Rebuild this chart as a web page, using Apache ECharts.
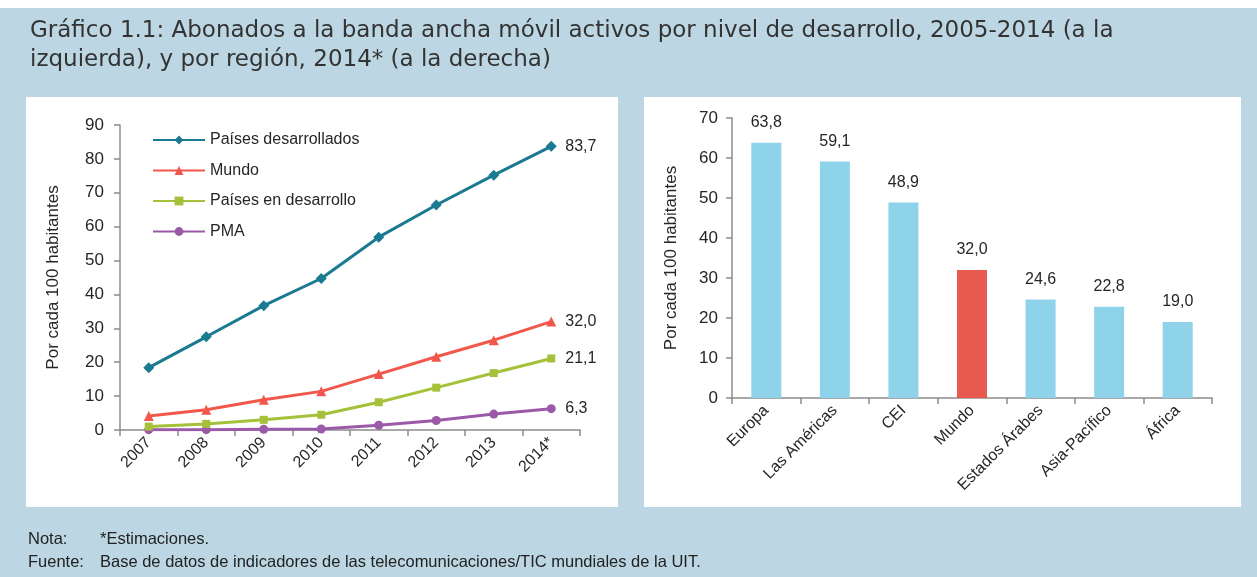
<!DOCTYPE html>
<html>
<head>
<meta charset="utf-8">
<script src="https://cdn.jsdelivr.net/npm/echarts@6/dist/echarts.min.js"></script>
<style>
html,body{margin:0;padding:0;background:#bcd7e3;}
#c{width:1257px;height:577px;}
</style>
</head>
<body>
<div id="c"></div>
<script>
// ---- data ----
const years = ['2007','2008','2009','2010','2011','2012','2013','2014*'];
const desarrollados = [18.4, 27.5, 36.7, 44.7, 56.9, 66.4, 75.2, 83.7];
const mundo = [4.1, 6.0, 8.9, 11.4, 16.5, 21.6, 26.5, 32.0];
const enDesarrollo = [1.0, 1.8, 3.0, 4.5, 8.2, 12.5, 16.8, 21.1];
const pma = [0.1, 0.1, 0.2, 0.3, 1.4, 2.8, 4.7, 6.3];
const lineNames = ['Países desarrollados','Mundo','Países en desarrollo','PMA'];

const regions = ['Europa','Las Américas','CEI','Mundo','Estados Árabes','Asia-Pacífico','África'];
const regionValues = [63.8, 59.1, 48.9, 32.0, 24.6, 22.8, 19.0];

const leftTicks = {min:0, max:90, interval:10};
const rightTicks = {min:0, max:70, interval:10};

const fmt = v => v.toFixed(1).replace('.', ',');
const FONT = 'Liberation Sans';
const TXT = '#262626';
const AX = '#8c8c8c';

const chart = echarts.init(document.getElementById('c'), null, {renderer:'canvas'});

const lineColors = ['#1a7a90','#f2574c','#a5c13a','#9a5aa8'];
const lineSymbols = ['diamond','triangle','rect','circle'];
const lineSizes = [11, 10, 8, 9];
const lineData = [desarrollados, mundo, enDesarrollo, pma];

const lineSeries = lineData.map((d,i)=>({
  name: lineNames[i],
  type: 'line',
  xAxisIndex: 0, yAxisIndex: 0,
  data: d,
  symbol: lineSymbols[i],
  symbolSize: lineSizes[i],
  showAllSymbol: true,
  z: 10 - i,
  lineStyle: {color: lineColors[i], width: 3},
  itemStyle: {color: lineColors[i]},
  endLabel: {show: true, formatter: p => fmt(p.value), color: TXT, fontFamily: FONT, fontSize: 16, distance: 14},
  animation: false
}));

const commonAxisLabel = {color: TXT, fontFamily: FONT, fontSize: 16};

chart.setOption({
  animation: false,
  backgroundColor: '#bcd7e3',
  graphic: [
    {type:'rect', shape:{x:0,y:0,width:1257,height:8}, style:{fill:'#ffffff'}, z:-10},
    {type:'rect', shape:{x:26,y:97,width:592,height:410}, style:{fill:'#ffffff'}, z:-10},
    {type:'rect', shape:{x:644,y:97,width:597,height:410}, style:{fill:'#ffffff'}, z:-10},
    {type:'text', left:30, top:20, style:{text:'Gráfico 1.1: Abonados a la banda ancha móvil activos por nivel de desarrollo, 2005-2014 (a la', fill:'#333', font:'23px "DejaVu Sans"'}},
    {type:'text', left:30, top:49, style:{text:'izquierda), y por región, 2014* (a la derecha)', fill:'#333', font:'23px "DejaVu Sans"'}},
    {type:'text', left:28, top:531, style:{text:'Nota:', fill:'#222', font:'16.5px "Liberation Sans"'}},
    {type:'text', left:100, top:531, style:{text:'*Estimaciones.', fill:'#222', font:'16.5px "Liberation Sans"'}},
    {type:'text', left:28, top:554, style:{text:'Fuente:', fill:'#222', font:'16.5px "Liberation Sans"'}},
    {type:'text', left:100, top:554, style:{text:'Base de datos de indicadores de las telecomunicaciones/TIC mundiales de la UIT.', fill:'#222', font:'16.5px "Liberation Sans"'}}
  ],
  legend: {
    data: lineNames,
    orient: 'vertical',
    left: 147, top: 127,
    itemWidth: 52, itemHeight: 11,
    itemGap: 14.5,
    textStyle: {color: TXT, fontFamily: FONT, fontSize: 16},
    selectedMode: false
  },
  grid: [
    {left:120, top:125, width:460, height:305, containLabel:false},
    {left:732, top:118, width:480, height:280, containLabel:false}
  ],
  xAxis: [
    {gridIndex:0, type:'category', data: years, boundaryGap:true,
     axisLine:{lineStyle:{color:AX, width:1.5}}, axisTick:{show:true, alignWithLabel:false, length:6, lineStyle:{color:AX, width:1.5}},
     axisLabel:{...commonAxisLabel, rotate:45, margin:10}},
    {gridIndex:1, type:'category', data: regions, boundaryGap:true,
     axisLine:{lineStyle:{color:AX, width:1.5}}, axisTick:{show:true, length:6, lineStyle:{color:AX, width:1.5}},
     axisLabel:{...commonAxisLabel, rotate:45, margin:10}}
  ],
  yAxis: [
    {gridIndex:0, type:'value', min:leftTicks.min, max:leftTicks.max, interval:leftTicks.interval,
     name:'Por cada 100 habitantes', nameLocation:'middle', nameGap:58, nameRotate:90,
     nameTextStyle:{color:TXT, fontFamily:FONT, fontSize:17},
     axisLine:{show:true, lineStyle:{color:AX, width:1.5}}, axisTick:{show:true, length:6, lineStyle:{color:AX, width:1.5}},
     splitLine:{show:false}, axisLabel:{...commonAxisLabel, fontSize:17, margin:16}},
    {gridIndex:1, type:'value', min:rightTicks.min, max:rightTicks.max, interval:rightTicks.interval,
     name:'Por cada 100 habitantes', nameLocation:'middle', nameGap:52, nameRotate:90,
     nameTextStyle:{color:TXT, fontFamily:FONT, fontSize:17},
     axisLine:{show:true, lineStyle:{color:AX, width:1.5}}, axisTick:{show:true, length:6, lineStyle:{color:AX, width:1.5}},
     splitLine:{show:false}, axisLabel:{...commonAxisLabel, fontSize:17, margin:14}}
  ],
  series: [
    ...lineSeries,
    {
      name: 'Regiones', type: 'bar', xAxisIndex:1, yAxisIndex:1,
      data: regionValues.map((v,i)=>({value:v, itemStyle:{color: regions[i]==='Mundo' ? '#e85a4f' : '#8fd3ea'}})),
      barWidth: 30,
      label: {show:true, position:'top', distance:12, formatter: p => fmt(p.value), color: TXT, fontFamily: FONT, fontSize: 16}
    }
  ]
});
</script>
</body>
</html>
